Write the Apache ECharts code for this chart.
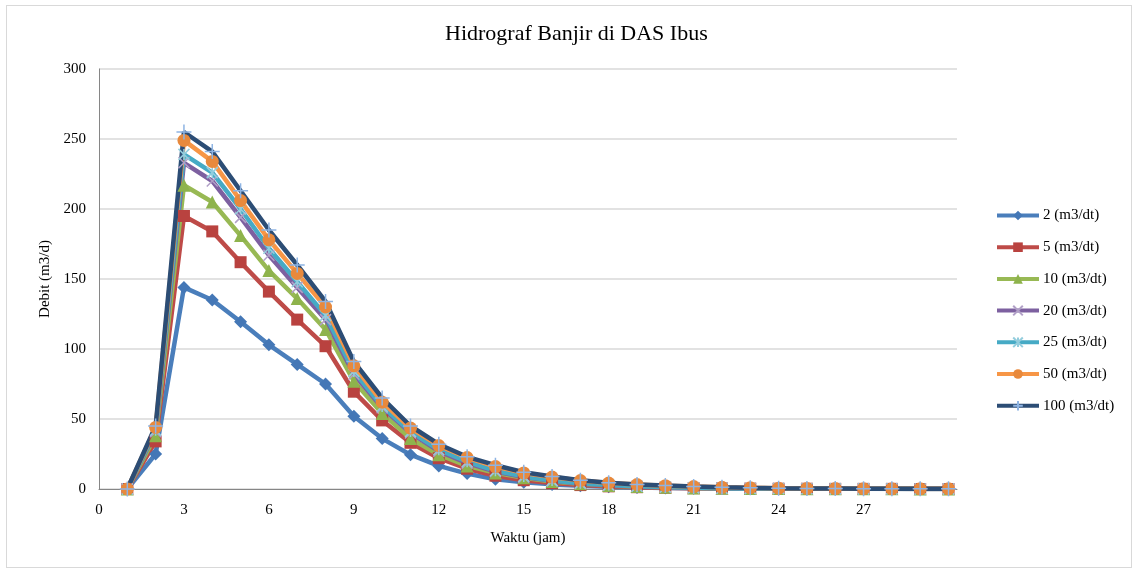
<!DOCTYPE html>
<html>
<head>
<meta charset="utf-8">
<title>Hidrograf Banjir di DAS Ibus</title>
<script src="https://cdn.jsdelivr.net/npm/echarts@6/dist/echarts.min.js"></script>
<style>
  html, body { margin: 0; padding: 0; background: #fff; }
  #frame { position: absolute; left: 6px; top: 5px; width: 1124px; height: 561px; border: 1px solid #d9d9d9; }
  #chart { position: absolute; left: 0; top: 0; width: 1134px; height: 570px; }
</style>
</head>
<body>
<div id="frame"></div>
<div id="chart"></div>
<script>
// Time in hours
const waktu = [1, 2, 3, 4, 5, 6, 7, 8, 9, 10, 11, 12, 13, 14, 15, 16, 17, 18, 19, 20, 21, 22, 23, 24, 25, 26, 27, 28, 29, 30];

// Flood discharge per return period
const q2   = [0, 25, 144, 135, 119.5, 103, 89, 75, 52, 36, 24.5, 16.5, 11, 7, 4.8, 3.3, 2.3, 1.6, 1.1, 0.8, 0.5, 0.4, 0.3, 0.2, 0.1, 0.1, 0.1, 0, 0, 0];
const q5   = [0, 34, 195, 184, 162, 141, 121, 102, 69.5, 49, 33, 22, 14.5, 9.5, 6.3, 4.2, 2.8, 1.9, 1.3, 0.9, 0.6, 0.4, 0.3, 0.2, 0.2, 0.1, 0.1, 0.1, 0, 0];
const q10  = [0, 38, 217, 205, 181, 156, 136, 114, 77, 54, 36, 24.5, 16.5, 11.5, 8, 5.4, 3.7, 2.5, 1.7, 1.2, 0.8, 0.6, 0.4, 0.3, 0.2, 0.1, 0.1, 0.1, 0, 0];
const q20  = [0, 41, 233, 220, 194, 167, 144, 121, 82, 58, 40, 27, 18.5, 12.5, 8.5, 5.8, 4, 2.7, 1.9, 1.3, 0.9, 0.6, 0.4, 0.3, 0.2, 0.1, 0.1, 0.1, 0, 0];
const q25  = [0, 42, 239, 226, 200, 172, 148, 124, 84, 59, 41, 28, 19.5, 13, 9, 6, 4.1, 2.8, 2, 1.4, 0.9, 0.6, 0.4, 0.3, 0.2, 0.1, 0.1, 0.1, 0, 0];
const q50  = [0, 44, 249, 234, 206, 178, 154, 130, 88, 62, 43.5, 31, 22.5, 16, 11.5, 8.5, 6, 4.3, 3.2, 2.4, 1.7, 1.2, 0.9, 0.6, 0.4, 0.3, 0.2, 0.15, 0.1, 0.1];
const q100 = [0, 45, 255, 241, 213, 185, 160, 134, 91, 65, 45, 32, 23, 17, 12, 9, 6.3, 4.5, 3.3, 2.5, 1.8, 1.3, 0.9, 0.6, 0.4, 0.3, 0.2, 0.15, 0.1, 0.1];

const seriesNames = ['2 (m3/dt)', '5 (m3/dt)', '10 (m3/dt)', '20 (m3/dt)', '25 (m3/dt)', '50 (m3/dt)', '100 (m3/dt)'];
const seriesValues = [q2, q5, q10, q20, q25, q50, q100];

const SERIF = '"Liberation Serif", "Times New Roman", serif';

// marker and line styles, one per series
const styles = [
  { line: '#4a7ebb', symbol: 'diamond', size: 13, fill: '#4477b6', stroke: '#4477b6', sw: 0 },
  { line: '#be4b48', symbol: 'rect', size: 12, fill: '#b9423f', stroke: '#b9423f', sw: 0 },
  { line: '#98b954', symbol: 'triangle', size: 13, fill: '#8eb34c', stroke: '#8eb34c', sw: 0 },
  { line: '#7d60a0', symbol: 'path://M0,0 L10,10 M10,0 L0,10', size: 11, fill: 'none', stroke: '#b1a0c7', sw: 1.5 },
  { line: '#46aac5', symbol: 'path://M0,0 L10,10 M10,0 L0,10 M5,0 L5,10', size: 11, fill: 'none', stroke: '#93cddd', sw: 1.5 },
  { line: '#f79646', symbol: 'circle', size: 13, fill: '#e8893c', stroke: '#e8893c', sw: 0 },
  { line: '#2c4d75', symbol: 'path://M5,0 L5,10 M0,5 L10,5', size: 15, fill: 'none', stroke: '#8eb4e3', sw: 1.5 }
];

const series = seriesNames.map((name, i) => ({
  name: name,
  type: 'line',
  data: waktu.map((t, k) => [t, seriesValues[i][k]]),
  symbol: styles[i].symbol,
  symbolSize: styles[i].size,
  showAllSymbol: true,
  lineStyle: { color: styles[i].line, width: 4.5 },
  itemStyle: { color: styles[i].fill, borderColor: styles[i].stroke, borderWidth: styles[i].sw },
  emphasis: { disabled: true },
  z: 2
}));

const chart = echarts.init(document.getElementById('chart'), null, { renderer: 'canvas' });
chart.setOption({
  animation: false,
  backgroundColor: 'transparent',
  title: {
    text: 'Hidrograf Banjir di DAS Ibus',
    left: 440,
    top: 18,
    textStyle: { fontFamily: SERIF, fontSize: 22, fontWeight: 'normal', color: '#000' }
  },
  grid: { left: 99, top: 69, right: 177, bottom: 81, containLabel: false },
  legend: {
    orient: 'vertical',
    left: 990,
    top: 203,
    itemWidth: 42,
    itemHeight: 12,
    itemGap: 16.7,
    lineStyle: { width: 4 },
    textStyle: { fontFamily: SERIF, fontSize: 15, color: '#000', padding: [0, 0, 0, -1] },
    data: seriesNames
  },
  xAxis: {
    type: 'value',
    min: 0,
    max: 30.3,
    interval: 3,
    name: 'Waktu (jam)',
    nameLocation: 'middle',
    nameGap: 42,
    nameTextStyle: { fontFamily: SERIF, fontSize: 15, color: '#000' },
    axisLine: { show: true, lineStyle: { color: '#868686', width: 1 } },
    axisTick: { show: false },
    splitLine: { show: false },
    axisLabel: {
      fontFamily: SERIF, fontSize: 15, color: '#000', margin: 14,
      showMaxLabel: false,
      formatter: v => (v > 28 ? '' : String(v))
    }
  },
  yAxis: {
    type: 'value',
    min: 0,
    max: 300,
    interval: 50,
    name: 'Debit (m3/d)',
    nameLocation: 'middle',
    nameGap: 45,
    nameRotate: 90,
    nameTextStyle: { fontFamily: SERIF, fontSize: 15, color: '#000' },
    axisLine: { show: true, lineStyle: { color: '#868686', width: 1 } },
    axisTick: { show: false },
    splitLine: { show: true, lineStyle: { color: '#d9d9d9', width: 1.5 } },
    axisLabel: { fontFamily: SERIF, fontSize: 15, color: '#000', margin: 13 }
  },
  series: series
});
</script>
</body>
</html>
